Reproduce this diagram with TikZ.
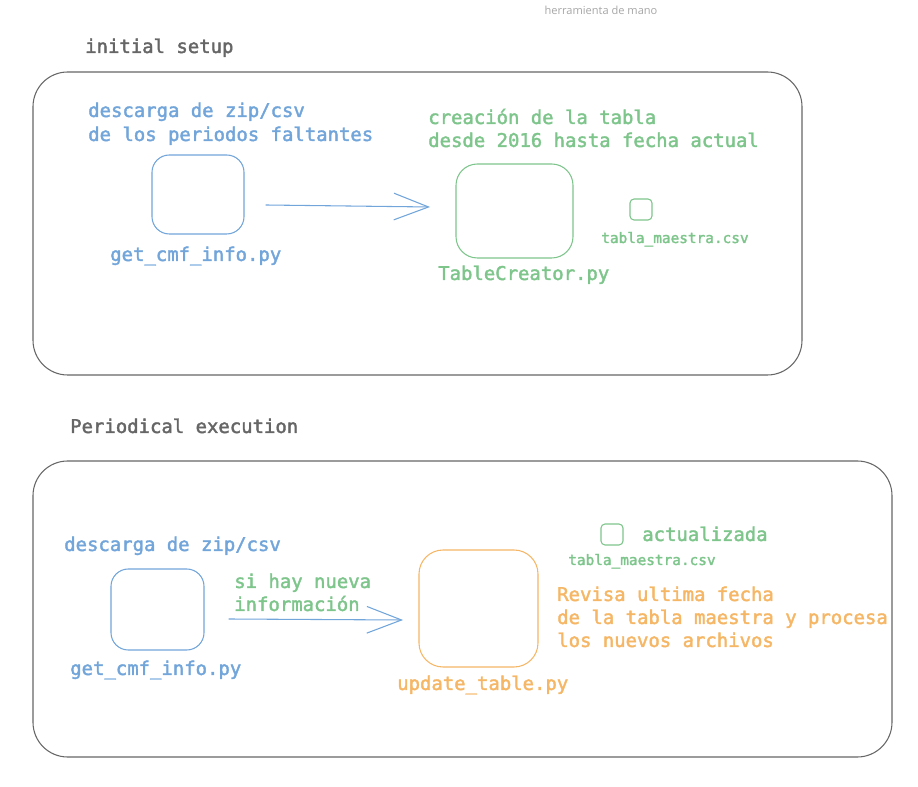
\documentclass[tikz,border=0pt]{standalone}
\usepackage{fontspec}
\setmainfont{Open Sans}
\newfontfamily\cmfmono{DejaVu Sans Mono}[FakeBold=2]
\usetikzlibrary{arrows.meta}
\definecolor{cmfblue}{HTML}{72A5DA}
\definecolor{cmfgreen}{HTML}{7EC58C}
\definecolor{cmforange}{HTML}{F5B665}
\definecolor{cmfgray}{HTML}{666666}
\begin{document}
\begin{tikzpicture}[x=0.75pt,y=-0.75pt,line cap=round,
  frame/.style={draw=cmfgray,line width=0.8pt,rounded corners=26pt},
  script/.style={line width=0.8pt,rounded corners=13pt},
  csvbox/.style={draw=cmfgreen,line width=0.8pt,rounded corners=3pt},
  txt/.style={inner sep=0pt,anchor=base west,font=\cmfmono\fontsize{14.2}{18}\selectfont},
  small/.style={inner sep=0pt,anchor=base west,text=cmfgreen,font=\cmfmono\fontsize{10.8}{13}\selectfont},
  flow/.style={draw=cmfblue,line width=0.8pt,-{Straight Barb[length=26pt,width=20pt,line width=0.8pt]}}]
 % page size
 \useasboundingbox (0,0) rectangle (918,787);

 % note at the top
 \node[inner sep=0pt,anchor=base,text=gray!70,font=\fontsize{8.3}{10}\selectfont] (note) at (601,15) {herramienta de mano};

 % ---------- initial setup ----------
 \node[txt,text=cmfgray] (setup) at (85,53) {initial setup};
 \draw[frame] (33,72) rectangle (802,375);

 % download script
 \node[txt,text=cmfblue] (dl1) at (88,117) {descarga de zip/csv};
 \node[txt,text=cmfblue] (dl2) at (88,141) {de los periodos faltantes};
 \draw[script,draw=cmfblue] (152,155) rectangle (244,234);
 \coordinate (getA) at (266,205);
 \node[txt,text=cmfblue] (getname) at (110,261) {get\_cmf\_info.py};

 % table creator
 \node[txt,text=cmfgreen] (tc1) at (428,124) {creación de la tabla};
 \node[txt,text=cmfgreen] (tc2) at (428,147) {desde 2016 hasta fecha actual};
 \draw[script,draw=cmfgreen,rounded corners=16pt] (456,164) rectangle (573,258);
 \coordinate (tcA) at (430,207);
 \node[txt,text=cmfgreen] (tcname) at (438,280) {TableCreator.py};

 % output csv
 \draw[csvbox] (630,199) rectangle (652,220);
 \node[small] (csvA) at (601,243) {tabla\_maestra.csv};

 \draw[flow] (getA) -- (tcA);

 % ---------- periodical execution ----------
 \node[txt,text=cmfgray] (period) at (70,433) {Periodical execution};
 \draw[frame] (33,461) rectangle (892,757);

 % download script
 \node[txt,text=cmfblue] (dl3) at (64,551) {descarga de zip/csv};
 \draw[script,draw=cmfblue] (111,569) rectangle (204,650);
 \coordinate (getB) at (229,619);
 \node[txt,text=cmfblue] (getnameB) at (70,675) {get\_cmf\_info.py};

 % condition
 \node[txt,text=cmfgreen] (if1) at (234,588) {si hay nueva};
 \node[txt,text=cmfgreen] (if2) at (234,611) {información};

 % update script
 \draw[script,draw=cmforange,rounded corners=18pt] (419,550) rectangle (538,667);
 \coordinate (upB) at (403,620);
 \node[txt,text=cmforange] (upname) at (397,690) {update\_table.py};

 % updated csv
 \draw[csvbox] (601,524) rectangle (623,545);
 \node[txt,text=cmfgreen] (upd) at (642,541) {actualizada};
 \node[small] (csvB) at (568,565) {tabla\_maestra.csv};

 % what the update does
 \foreach \y/\line in {601/Revisa ultima fecha,
                       624/de la tabla maestra y procesa,
                       647/los nuevos archivos}
   \node[txt,text=cmforange] at (557,\y) {\line};

 \draw[flow] (getB) -- (upB);
\end{tikzpicture}
\end{document}
